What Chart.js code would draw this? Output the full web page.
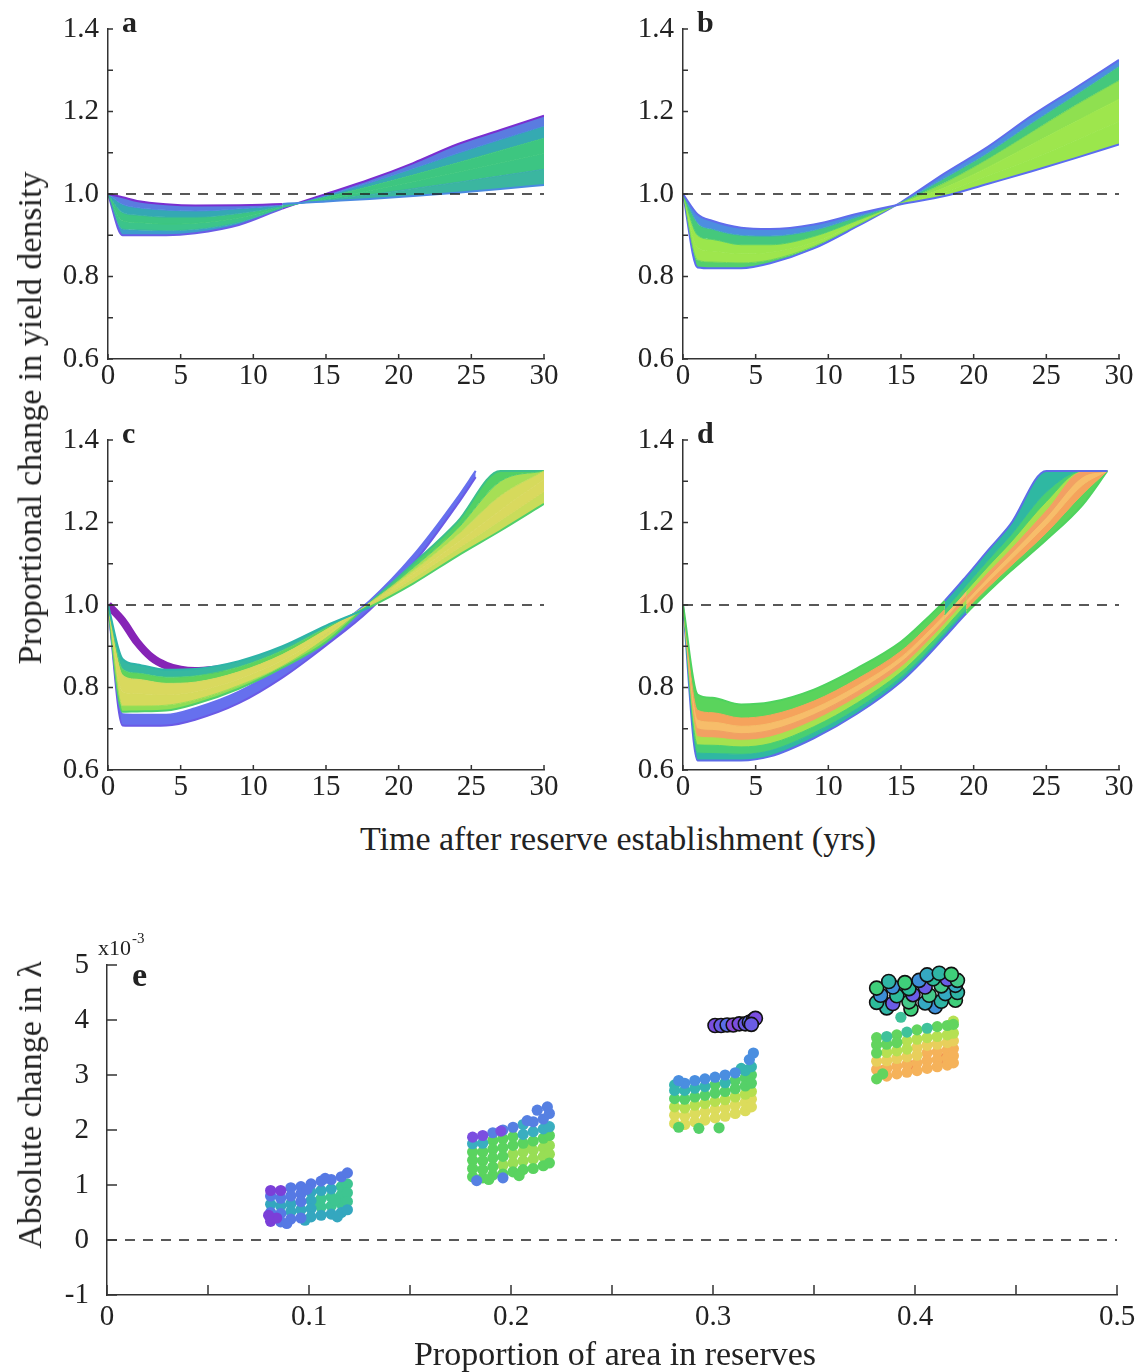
<!DOCTYPE html>
<html>
<head>
<meta charset="utf-8">
<script src="https://cdn.jsdelivr.net/npm/chart.js@4.4.1/dist/chart.umd.min.js"></script>
<style>
  body { margin: 0; background: #fff; }
  #page { position: relative; width: 1141px; height: 1372px; font-family: 'Liberation Serif', 'Times New Roman', serif; color: #222; }
  canvas { position: absolute; }
  .txt { position: absolute; white-space: nowrap; line-height: 1; }
  .letter { font-weight: bold; font-size: 30px; }
  .title { font-size: 34px; }
</style>
</head>
<body>
<div id="page">
  <canvas id="chart-a" width="570" height="400" style="left:0;top:0"></canvas>
  <canvas id="chart-b" width="566" height="400" style="left:575px;top:0"></canvas>
  <canvas id="chart-c" width="570" height="400" style="left:0;top:410px"></canvas>
  <canvas id="chart-d" width="566" height="400" style="left:575px;top:410px"></canvas>
  <canvas id="chart-e" width="1141" height="452" style="left:0;top:920px"></canvas>

  <div class="txt letter" style="left:122px;top:7px">a</div>
  <div class="txt letter" style="left:697px;top:7px">b</div>
  <div class="txt letter" style="left:122px;top:418px">c</div>
  <div class="txt letter" style="left:697px;top:418px">d</div>
  <div class="txt letter" style="left:132px;top:958px;font-size:34px">e</div>

  <div class="txt title" style="left:30px;top:418px;transform:translate(-50%,-50%) rotate(-90deg)">Proportional change in yield density</div>
  <div class="txt title" style="left:618px;top:822px;transform:translateX(-50%)">Time after reserve establishment (yrs)</div>
  <div class="txt title" style="left:30px;top:1105px;transform:translate(-50%,-50%) rotate(-90deg)">Absolute change in λ</div>
  <div class="txt title" style="left:615px;top:1337px;transform:translateX(-50%)">Proportion of area in reserves</div>
  <div class="txt" style="left:98px;top:937px;font-size:22px">x10</div>
  <div class="txt" style="left:132px;top:931px;font-size:15px">-3</div>
</div>

<script>
// --- Data: panels a-d (proportional change in yield density) ---
const years = [0, 1, 2, 4, 6, 9, 12, 15, 18, 21, 24, 27, 30];
const timeTicks = [0, 5, 10, 15, 20, 25, 30];
const yieldTicks = [0.6, 0.8, 1.0, 1.2, 1.4];

// panel a, from shallow initial dip to deep dip
const a1 = [1.0, 0.992, 0.983, 0.975, 0.972, 0.973, 0.976, 0.982, 0.988, 0.995, 1.003, 1.012, 1.022];
const a2 = [1.0, 0.975, 0.967, 0.961, 0.959, 0.964, 0.973, 0.985, 0.998, 1.013, 1.028, 1.044, 1.06];
const a3 = [1.0, 0.955, 0.949, 0.944, 0.944, 0.953, 0.970, 0.988, 1.008, 1.030, 1.052, 1.075, 1.098];
const a4 = [1.0, 0.935, 0.931, 0.927, 0.929, 0.942, 0.968, 0.992, 1.018, 1.046, 1.075, 1.105, 1.135];
const a5 = [1.0, 0.915, 0.913, 0.911, 0.914, 0.931, 0.966, 0.996, 1.027, 1.062, 1.098, 1.132, 1.165];
const a6 = [1.0, 0.900, 0.900, 0.900, 0.905, 0.925, 0.965, 1.000, 1.035, 1.075, 1.120, 1.155, 1.190];

// panel b
const b1 = [1.0, 0.951, 0.935, 0.918, 0.915, 0.926, 0.952, 0.975, 0.995, 1.025, 1.055, 1.087, 1.12];
const b2 = [1.0, 0.930, 0.915, 0.900, 0.898, 0.912, 0.944, 0.976, 1.005, 1.045, 1.085, 1.130, 1.175];
const b3 = [1.0, 0.900, 0.890, 0.877, 0.877, 0.897, 0.936, 0.977, 1.015, 1.065, 1.120, 1.175, 1.23];
const b4 = [1.0, 0.870, 0.862, 0.855, 0.858, 0.883, 0.930, 0.978, 1.027, 1.085, 1.150, 1.215, 1.275];
const b5 = [1.0, 0.840, 0.835, 0.833, 0.840, 0.873, 0.925, 0.979, 1.038, 1.100, 1.172, 1.240, 1.31];
const b6 = [1.0, 0.822, 0.820, 0.820, 0.832, 0.868, 0.922, 0.980, 1.050, 1.115, 1.190, 1.257, 1.325];

// panel c
const c1 = [1.0, 0.869, 0.856, 0.843, 0.845, 0.864, 0.900, 0.950, 0.995, 1.052, 1.118, 1.180, 1.245];
const c2 = [1.0, 0.845, 0.835, 0.825, 0.828, 0.850, 0.890, 0.945, 1.000, 1.065, 1.135, 1.205, 1.275];
const c3 = [1.0, 0.830, 0.820, 0.810, 0.813, 0.838, 0.880, 0.940, 1.003, 1.075, 1.150, 1.230, 1.305];
const c4 = [1.0, 0.790, 0.785, 0.782, 0.790, 0.820, 0.866, 0.930, 1.005, 1.083, 1.168, 1.265, 1.325];
const c5 = [1.0, 0.755, 0.755, 0.757, 0.770, 0.805, 0.852, 0.920, 1.005, 1.090, 1.183, 1.300, 1.325];
const c6 = [1.0, 0.741, 0.742, 0.744, 0.760, 0.797, 0.848, 0.910, 1.005, 1.100, 1.200, 1.325, 1.325];
const cBlueYears = [0, 1, 2, 4, 6, 9, 12, 15, 18, 21, 24, 25.3];
const cBlueTop = [1.0, 0.735, 0.734, 0.734, 0.750, 0.790, 0.852, 0.930, 1.010, 1.120, 1.258, 1.325];
const cBlueBottom = [1.0, 0.708, 0.707, 0.708, 0.722, 0.762, 0.824, 0.902, 0.988, 1.100, 1.242, 1.310];
const cPurpleYears = [0, 1, 2, 3, 4, 5, 6, 8];
const cPurple = [1.0, 0.962, 0.910, 0.873, 0.853, 0.843, 0.840, 0.845];

// panel d: the band keeps its width while its colour order flips around 1.0
const dYears = [0, 1, 2, 4, 6, 9, 12, 15, 16.5, 18, 19.5, 21, 22.5, 25, 27.5, 29.2];
const d1 = [1.0, 0.783, 0.775, 0.759, 0.764, 0.795, 0.847, 0.911, 0.958, 1.010, 1.070, 1.133, 1.194, 1.325, 1.325, 1.325];
const d2 = [1.0, 0.745, 0.739, 0.726, 0.733, 0.767, 0.821, 0.888, 0.936, 0.989, 1.048, 1.109, 1.167, 1.274, 1.325, 1.325];
const d3 = [1.0, 0.721, 0.716, 0.706, 0.713, 0.749, 0.804, 0.873, 0.922, 0.976, 1.035, 1.094, 1.150, 1.251, 1.325, 1.325];
const d4 = [1.0, 0.700, 0.696, 0.688, 0.696, 0.734, 0.790, 0.861, 0.910, 0.964, 1.023, 1.081, 1.135, 1.231, 1.325, 1.325];
const d5 = [1.0, 0.681, 0.678, 0.672, 0.680, 0.720, 0.777, 0.849, 0.899, 0.954, 1.012, 1.068, 1.122, 1.213, 1.311, 1.325];
const d6 = [1.0, 0.661, 0.660, 0.656, 0.664, 0.705, 0.763, 0.837, 0.887, 0.943, 1.002, 1.056, 1.108, 1.195, 1.291, 1.325];
const d7 = [1.0, 0.641, 0.640, 0.638, 0.647, 0.690, 0.749, 0.825, 0.875, 0.932, 0.990, 1.043, 1.093, 1.175, 1.269, 1.325];
const d8 = [1.0, 0.623, 0.623, 0.623, 0.633, 0.677, 0.737, 0.814, 0.865, 0.922, 0.980, 1.032, 1.081, 1.158, 1.243, 1.325];

// --- Data: panel e (absolute change in lambda, x10^-3) ---
const areaTicks = [0, 0.1, 0.2, 0.3, 0.4, 0.5];
const lambdaTicks = [-1, 0, 1, 2, 3, 4, 5];

const e1Purple = [[0.081, 0.90], [0.086, 0.90], [0.081, 0.34], [0.084, 0.40], [0.080, 0.45]];
const e1Blue = [[0.091, 0.95], [0.096, 0.97], [0.101, 1.02], [0.106, 1.07], [0.111, 1.10], [0.116, 1.15], [0.119, 1.22],
  [0.081, 0.80], [0.086, 0.76], [0.091, 0.80], [0.096, 0.84], [0.096, 0.70], [0.081, 0.50], [0.086, 0.48],
  [0.086, 0.33], [0.091, 0.38], [0.096, 0.40], [0.099, 0.92], [0.108, 1.12], [0.089, 0.30]];
const e1Teal = [[0.101, 0.87], [0.106, 0.90], [0.111, 0.93], [0.081, 0.65], [0.086, 0.62], [0.091, 0.66], [0.101, 0.72],
  [0.091, 0.52], [0.096, 0.55], [0.101, 0.57], [0.101, 0.42], [0.106, 0.45], [0.111, 0.47], [0.116, 0.50], [0.119, 0.55],
  [0.098, 0.36], [0.114, 0.42]];
const e1Green = [[0.116, 0.97], [0.119, 1.02], [0.106, 0.75], [0.111, 0.78], [0.116, 0.82], [0.119, 0.86],
  [0.106, 0.60], [0.111, 0.62], [0.116, 0.66], [0.119, 0.70], [0.104, 0.68], [0.113, 0.72]];

const e2Purple = [[0.181, 1.87], [0.186, 1.90], [0.195, 1.98]];
const e2Blue = [[0.191, 1.95], [0.196, 2.00], [0.201, 2.05], [0.211, 2.15], [0.216, 2.20], [0.219, 2.30],
  [0.213, 2.36], [0.218, 2.42], [0.196, 1.13], [0.183, 1.08], [0.208, 2.17]];
const e2Teal = [[0.206, 2.10], [0.181, 1.75], [0.186, 1.76], [0.206, 1.92], [0.211, 1.97], [0.216, 2.02], [0.219, 2.06]];
const e2Green = [[0.191, 1.81], [0.196, 1.84], [0.201, 1.88], [0.181, 1.60], [0.186, 1.60], [0.191, 1.65], [0.196, 1.68],
  [0.201, 1.72], [0.206, 1.76], [0.211, 1.80], [0.216, 1.85], [0.219, 1.90], [0.181, 1.45], [0.186, 1.44],
  [0.191, 1.49], [0.196, 1.52], [0.181, 1.15], [0.186, 1.13], [0.191, 1.18], [0.196, 1.20], [0.201, 1.24],
  [0.206, 1.28], [0.211, 1.30], [0.216, 1.35], [0.219, 1.40], [0.181, 1.30], [0.186, 1.28], [0.191, 1.33],
  [0.189, 1.10], [0.204, 1.17]];
const e2Lime = [[0.201, 1.56], [0.206, 1.60], [0.211, 1.63], [0.216, 1.68], [0.219, 1.72], [0.196, 1.36],
  [0.201, 1.40], [0.206, 1.44], [0.211, 1.47], [0.216, 1.52], [0.219, 1.56], [0.209, 1.70]];

const e3Blue = [[0.286, 2.85], [0.291, 2.90], [0.296, 2.93], [0.301, 2.96], [0.306, 3.00], [0.318, 3.28],
  [0.320, 3.40], [0.311, 3.04], [0.283, 2.90]];
const e3Teal = [[0.281, 2.82], [0.316, 3.08], [0.319, 3.15], [0.281, 2.72], [0.286, 2.72], [0.291, 2.76],
  [0.306, 2.86], [0.296, 2.79], [0.314, 3.12]];
const e3Green = [[0.301, 2.82], [0.311, 2.90], [0.316, 2.95], [0.319, 3.00], [0.281, 2.57], [0.286, 2.56], [0.291, 2.60],
  [0.296, 2.63], [0.301, 2.67], [0.306, 2.70], [0.311, 2.75], [0.316, 2.80], [0.319, 2.85], [0.293, 2.03],
  [0.303, 2.04], [0.283, 2.05]];
const e3Lime = [[0.281, 2.42], [0.286, 2.40], [0.291, 2.45], [0.296, 2.48], [0.301, 2.52], [0.306, 2.55],
  [0.311, 2.60], [0.316, 2.65], [0.319, 2.70]];
const e3Yellow = [[0.281, 2.27], [0.286, 2.25], [0.291, 2.30], [0.296, 2.33], [0.301, 2.37], [0.306, 2.40], [0.311, 2.45],
  [0.316, 2.50], [0.319, 2.56], [0.281, 2.12], [0.286, 2.10], [0.291, 2.15], [0.296, 2.18], [0.301, 2.22],
  [0.306, 2.25], [0.311, 2.30], [0.316, 2.35], [0.319, 2.42]];
const e3Outlined = [[0.301, 3.90], [0.304, 3.90], [0.307, 3.91], [0.310, 3.91], [0.313, 3.93], [0.316, 3.93],
  [0.318, 3.96], [0.320, 4.00], [0.321, 4.03], [0.319, 3.92]];

const e4Teal = [[0.386, 3.70], [0.396, 3.78], [0.393, 4.05], [0.406, 3.85]];
const e4Green = [[0.381, 3.68], [0.391, 3.73], [0.401, 3.82], [0.411, 3.88], [0.416, 3.90], [0.419, 3.92], [0.381, 3.55],
  [0.386, 3.56], [0.391, 3.59], [0.381, 2.93], [0.384, 3.02], [0.381, 3.40]];
const e4Lime = [[0.396, 3.62], [0.401, 3.65], [0.406, 3.68], [0.411, 3.70], [0.416, 3.73], [0.419, 3.76], [0.386, 3.41],
  [0.391, 3.44], [0.396, 3.47], [0.419, 3.98]];
const e4Yellow = [[0.401, 3.50], [0.406, 3.54], [0.411, 3.56], [0.416, 3.59], [0.419, 3.62], [0.381, 3.25], [0.386, 3.26],
  [0.391, 3.30], [0.396, 3.33], [0.401, 3.36]];
const e4Orange = [[0.406, 3.40], [0.411, 3.42], [0.416, 3.45], [0.419, 3.48], [0.381, 3.10], [0.386, 3.12], [0.391, 3.16],
  [0.396, 3.19], [0.401, 3.22], [0.406, 3.26], [0.411, 3.28], [0.416, 3.31], [0.419, 3.35], [0.386, 2.98],
  [0.391, 3.02], [0.396, 3.05], [0.401, 3.08], [0.406, 3.12], [0.411, 3.15], [0.416, 3.18], [0.419, 3.22]];
const e4Red = [[0.384, 3.08], [0.397, 3.18], [0.414, 3.30]];
const e4Outlined = [[0.386, 4.22], [0.398, 4.20], [0.410, 4.24],
  [0.381, 4.32], [0.389, 4.30], [0.397, 4.33], [0.405, 4.31], [0.413, 4.34], [0.420, 4.36],
  [0.383, 4.45], [0.391, 4.44], [0.399, 4.46], [0.407, 4.45], [0.415, 4.48], [0.421, 4.50],
  [0.381, 4.58], [0.389, 4.60], [0.397, 4.57], [0.405, 4.60], [0.413, 4.62], [0.420, 4.63],
  [0.387, 4.70], [0.395, 4.68], [0.402, 4.72], [0.409, 4.75], [0.416, 4.74], [0.421, 4.72],
  [0.406, 4.82], [0.412, 4.85], [0.418, 4.83]];

// --- Common setup ---
Chart.defaults.font.family = "'Liberation Serif', 'Times New Roman', serif";
Chart.defaults.font.size = 29;
Chart.defaults.color = '#222';
Chart.defaults.animation = false;

const AXIS = '#333';

// tick marks point into the plot, like the original figure
const inwardTicks = {
  id: 'inwardTicks',
  afterDatasetsDraw(chart, args, opts) {
    const { ctx, chartArea } = chart;
    const xs = chart.scales.x;
    const ys = chart.scales.y;
    ctx.save();
    ctx.strokeStyle = AXIS;
    ctx.lineWidth = 1.5;
    ctx.beginPath();
    xs.ticks.forEach(t => {
      const px = xs.getPixelForValue(t.value);
      ctx.moveTo(px, chartArea.bottom);
      ctx.lineTo(px, chartArea.bottom - opts.length);
    });
    ys.ticks.forEach(t => {
      const py = ys.getPixelForValue(t.value);
      ctx.moveTo(chartArea.left, py);
      ctx.lineTo(chartArea.left + opts.length, py);
    });
    ctx.stroke();
    ctx.restore();
  }
};

function hasTick(list, v) {
  return list.some(t => Math.abs(t - v) < 1e-6);
}

function points(xs, ys) {
  return xs.map((x, i) => ({ x, y: ys[i] }));
}

function pairs(list) {
  return list.map(p => ({ x: p[0], y: p[1] }));
}

function refLine(x0, x1, y) {
  return {
    data: [{ x: x0, y }, { x: x1, y }],
    borderColor: '#222',
    borderWidth: 1.3,
    borderDash: [10, 8],
    pointRadius: 0,
    fill: false,
    showLine: true
  };
}

// a band of curves, each ribbon between neighbours filled with its colour;
// once `after(segment)` holds, the ribbons switch to the second palette
function band(xs, curves, style, offset) {
  const n = curves.length;
  const after = style.after || (() => false);
  const lineAfter = style.lineAfter || style.line;
  const fillAfter = style.fillAfter || style.fill;
  return curves.map((ys, k) => {
    const fill0 = k ? style.fill[k - 1] : 'transparent';
    const fill1 = k ? fillAfter[k - 1] : 'transparent';
    return {
      data: points(xs, ys),
      borderColor: style.line[k],
      borderWidth: k === 0 || k === n - 1 ? 2 : 1,
      backgroundColor: fill0,
      fill: k ? { target: offset + k - 1, above: fill0, below: fill0 } : false,
      segment: {
        borderColor: c => after(c) ? lineAfter[k] : style.line[k],
        backgroundColor: c => after(c) ? fill1 : fill0
      },
      pointRadius: 0,
      cubicInterpolationMode: 'monotone'
    };
  });
}

const pastYear = t => c => (c.p0.parsed.x + c.p1.parsed.x) / 2 >= t;
const aboveOne = c => (c.p0.parsed.y + c.p1.parsed.y) / 2 >= 1.0;

function yieldChart(id, datasets, topPad, rightPad, xHeight) {
  return new Chart(document.getElementById(id), {
    type: 'line',
    data: { datasets },
    options: {
      responsive: false,
      layout: { padding: { left: 0, top: topPad, right: rightPad, bottom: 0 } },
      plugins: { legend: { display: false }, tooltip: { enabled: false }, inwardTicks: { length: 5 } },
      scales: {
        x: {
          type: 'linear', min: 0, max: 30,
          afterFit: s => { s.height = xHeight; },
          grid: { display: false, drawTicks: false },
          border: { display: true, color: AXIS, width: 1.5, z: 1 },
          ticks: { stepSize: 5, autoSkip: false, maxRotation: 0, padding: 0,
            callback: v => hasTick(timeTicks, v) ? String(Math.round(v)) : '' }
        },
        y: {
          min: 0.6, max: 1.4,
          afterFit: s => { s.width = 108; },
          grid: { display: false, drawTicks: false },
          border: { display: true, color: AXIS, width: 1.5, z: 1 },
          ticks: { stepSize: 0.1, autoSkip: false, padding: 9,
            callback: v => hasTick(yieldTicks, v) ? v.toFixed(1) : '' }
        }
      }
    },
    plugins: [inwardTicks]
  });
}

// --- Panels a-d ---
yieldChart('chart-a', [
  refLine(0, 30, 1.0),
  ...band(years, [a1, a2, a3, a4, a5, a6], {
    line: ['#7a2ed0', '#4f86de', '#36b0a8', '#3ec77e', '#38b2a8', '#6a5ce6'],
    fill: ['#5a7ce0', '#34a8b4', '#3cc583', '#3cc48a', '#3d9ccc'],
    lineAfter: ['#4a8ae0', '#3aaea8', '#3ec77e', '#3ec77e', '#4a86de', '#7a2ed0'],
    fillAfter: ['#3bb6a0', '#3cc583', '#3dc680', '#35aab2', '#5a7ce0'],
    after: pastYear(12)
  }, 1)
], 29, 26, 41);

yieldChart('chart-b', [
  refLine(0, 30, 1.0),
  ...band(years, [b1, b2, b3, b4, b5, b6], {
    line: ['#5f6cec', '#3fa6c0', '#54cf6a', '#9be64c', '#6bd45e', '#5b6cf0'],
    fill: ['#4d8ee0', '#45c87c', '#9be64c', '#9ee64d', '#52cf6e'],
    lineAfter: ['#5b6cf0', '#9be64c', '#9be64c', '#6bd45e', '#3fa6c0', '#5f6cec'],
    fillAfter: ['#9be64c', '#9ee64d', '#8fe050', '#45c87c', '#4d8ee0'],
    after: pastYear(15)
  }, 1)
], 29, 22, 41);

yieldChart('chart-c', [
  refLine(0, 30, 1.0),
  ...band(years, [c1, c2, c3, c4, c5, c6], {
    line: ['#2eb4a8', '#4fcf70', '#d6d85c', '#d8d95e', '#9ade55', '#4fcf6a'],
    fill: ['#36b8a0', '#5fd35c', '#d9d95e', '#d6da5c', '#8fde55'],
    lineAfter: ['#4fcf6a', '#d6d85c', '#d8d95e', '#b8dc58', '#4fcf70', '#3cc08c'],
    fillAfter: ['#c9dc5a', '#d9d95e', '#d6da5c', '#a6df55', '#52d064'],
    after: pastYear(18)
  }, 1),
  ...band(cBlueYears, [cBlueTop, cBlueBottom], { line: ['#6670ee', '#6a5ae6'], fill: ['#6670ee'] }, 7),
  { data: points(cPurpleYears, cPurple), borderColor: '#8624b6', borderWidth: 8, pointRadius: 0,
    fill: false, cubicInterpolationMode: 'monotone' }
], 30, 26, 40);

const dLines = ['#4ed35e', '#f5a35c', '#f7bd6a', '#f2a063', '#a5e24f', '#48cf72', '#2fb8a2', '#5d6de8'];
const dFills = ['#5ad45c', '#f5a35c', '#f7bd6a', '#f2a063', '#a5e24f', '#48cf72', '#2fb8a2'];
yieldChart('chart-d', [
  refLine(0, 30, 1.0),
  ...band(dYears, [d1, d2, d3, d4, d5, d6, d7, d8], {
    line: dLines,
    fill: dFills,
    lineAfter: [...dLines].reverse(),
    fillAfter: [...dFills].reverse(),
    after: aboveOne
  }, 1),
  // plain underlay so the colour switch leaves no hairline gaps
  { data: points(dYears, d1), borderWidth: 0, pointRadius: 0, fill: false, cubicInterpolationMode: 'monotone' },
  { data: points(dYears, d8), borderWidth: 0, pointRadius: 0, backgroundColor: '#c8d862',
    fill: { target: 9, above: '#c8d862', below: '#c8d862' }, cubicInterpolationMode: 'monotone' }
], 30, 22, 40);

// --- Panel e ---
function dots(list, color) {
  return { data: pairs(list), backgroundColor: color, borderWidth: 0, pointRadius: 5.6 };
}

function outlined(list, fills) {
  return {
    data: pairs(list),
    backgroundColor: list.map((p, i) => fills[i % fills.length]),
    borderColor: '#111',
    borderWidth: 1.6,
    pointRadius: 7
  };
}

new Chart(document.getElementById('chart-e'), {
  type: 'scatter',
  data: {
    datasets: [
      refLine(0, 0.5, 0),
      outlined(e4Outlined, ['#2fb5a5', '#3fcf7a', '#3d8fd8', '#2dbb9a', '#6a5ce6', '#45c98a', '#35a9c2']),
      outlined(e3Outlined, ['#7b4ee0', '#6a5ce6', '#5a6ee8', '#8a4bd8']),
      dots(e1Purple, '#7b3fd8'), dots(e1Blue, '#5679e4'), dots(e1Teal, '#34a7bf'), dots(e1Green, '#3ec591'),
      dots(e2Purple, '#7b4ee0'), dots(e2Blue, '#5680e2'), dots(e2Teal, '#3aaec0'), dots(e2Green, '#5ad35f'), dots(e2Lime, '#98de55'),
      dots(e3Blue, '#4a8ee0'), dots(e3Teal, '#35b5b0'), dots(e3Green, '#55d068'), dots(e3Lime, '#b5df50'), dots(e3Yellow, '#dcdc5c'),
      dots(e4Teal, '#3fc29a'), dots(e4Green, '#62d45e'), dots(e4Lime, '#b6e052'), dots(e4Yellow, '#e8cf5c'),
      dots(e4Orange, '#f5b25a'), dots(e4Red, '#ef8a50')
    ]
  },
  options: {
    responsive: false,
    layout: { padding: { left: 0, top: 45, right: 24, bottom: 0 } },
    plugins: { legend: { display: false }, tooltip: { enabled: false }, inwardTicks: { length: 10 } },
    scales: {
      x: {
        type: 'linear', min: 0, max: 0.5,
        afterFit: s => { s.height = 77; },
        grid: { display: false, drawTicks: false },
        border: { display: true, color: AXIS, width: 1.5, z: 1 },
        ticks: { stepSize: 0.05, autoSkip: false, maxRotation: 0, padding: 5,
          callback: v => hasTick(areaTicks, v) ? (Math.abs(v) < 1e-9 ? '0' : v.toFixed(1)) : '' }
      },
      y: {
        min: -1, max: 5,
        afterFit: s => { s.width = 107; },
        grid: { display: false, drawTicks: false },
        border: { display: true, color: AXIS, width: 1.5, z: 1 },
        ticks: { stepSize: 1, autoSkip: false, padding: 18,
          callback: v => hasTick(lambdaTicks, v) ? String(Math.round(v)) : '' }
      }
    }
  },
  plugins: [inwardTicks]
});
</script>
</body>
</html>
